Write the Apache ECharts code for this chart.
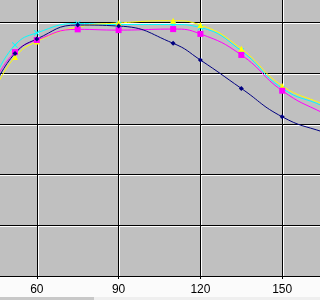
<!DOCTYPE html>
<html>
<head>
<meta charset="utf-8">
<script src="https://cdn.jsdelivr.net/npm/echarts@6/dist/echarts.min.js"></script>
<style>
html,body{margin:0;padding:0;background:#fbfbfb;}
#c{width:320px;height:300px;}
</style>
</head>
<body>
<div id="c"></div>
<script>
// Data
const xValues = [45, 52, 60, 75, 90, 110, 120, 135, 150, 165, 180];
const navySeries    = [76.0, 87.8, 93.5, 99.0, 98.6, 91.8, 85.2, 74.0, 62.8, 56.8, 52.0];
const magentaSeries = [77.7, 88.3, 93.1, 97.3, 97.0, 97.4, 95.5, 87.2, 73.1, 64.3, 57.0];
const yellowSeries  = [74.2, 86.4, 92.5, 98.2, 99.8, 100.7, 99.0, 89.6, 75.0, 67.7, 60.0];
const cyanSeries    = [78.9, 91.1, 95.9, 99.6, 99.2, 99.2, 98.0, 88.8, 74.0, 67.0, 59.0];
const xTicks = { min: 30, max: 180, interval: 30 };
const yTicks = { min: 0, max: 120, interval: 20 };

const pairs = arr => xValues.map((x, i) => [x, arr[i]]);
const xMark = 'path://M0,1L1,0L5,4L9,0L10,1L6,5L10,9L9,10L5,6L1,10L0,9L4,5Z';

const chart = echarts.init(document.getElementById('c'), null, { renderer: 'canvas' });
const mk = (name, data, color, symbol, size) => ({
  name, type: 'line', xAxisIndex: 0, yAxisIndex: 0, data: pairs(data),
  smooth: true, symbol, symbolSize: size, showSymbol: true, z: 3,
  lineStyle: { color, width: 1 }, itemStyle: { color, borderWidth: 0 },
  emphasis: { disabled: true }, animation: false
});

chart.setOption({
  animation: false,
  backgroundColor: '#fbfbfb',
  grid: [
    { left: -45, top: -28.2, width: 409, height: 304.2, show: true, backgroundColor: '#c0c0c0', borderWidth: 0, z: 0, containLabel: false, outerBoundsMode: 'none' },
    { left: -44, top: -27.2, width: 409, height: 304.2, show: false, z: 0, containLabel: false, outerBoundsMode: 'none' }
  ],
  xAxis: [
    { type: 'value', gridIndex: 0, min: xTicks.min, max: xTicks.max, interval: xTicks.interval, z: 2,
      axisLine: { show: true, lineStyle: { color: '#000', width: 1 } },
      axisTick: { show: true, length: 3, lineStyle: { color: '#000' } },
      axisLabel: { color: '#000', fontFamily: 'Liberation Sans, Arial, sans-serif', fontSize: 12, margin: 8 },
      splitLine: { show: true, lineStyle: { color: '#000', width: 1 } } },
    { type: 'value', gridIndex: 1, min: xTicks.min, max: xTicks.max, interval: xTicks.interval, z: 1,
      axisLine: { show: false }, axisTick: { show: false }, axisLabel: { show: false },
      splitLine: { show: true, lineStyle: { color: '#ffffff', width: 1 } } }
  ],
  yAxis: [
    { type: 'value', gridIndex: 0, min: yTicks.min, max: yTicks.max, interval: yTicks.interval, z: 2,
      axisLine: { show: false }, axisTick: { show: false }, axisLabel: { show: false },
      splitLine: { show: true, lineStyle: { color: '#000', width: 1 } } },
    { type: 'value', gridIndex: 1, min: yTicks.min, max: yTicks.max, interval: yTicks.interval, z: 1,
      axisLine: { show: false }, axisTick: { show: false }, axisLabel: { show: false },
      splitLine: { show: true, lineStyle: { color: '#ffffff', width: 1 } } }
  ],
  graphic: [
    { type: 'rect', left: 0, top: 297, shape: { width: 320, height: 3 }, style: { fill: '#efefef' }, z: 10 },
    { type: 'rect', left: 0, top: 297, shape: { width: 94, height: 3 }, style: { fill: '#c8c8c8' }, z: 11 }
  ],
  series: [
    mk('S4', cyanSeries, '#00ffff', xMark, 6),
    mk('S3', yellowSeries, '#ffff00', 'triangle', 6),
    mk('S2', magentaSeries, '#ff00ff', 'rect', 6),
    mk('S1', navySeries, '#000080', 'diamond', 5)
  ]
});
</script>
</body>
</html>
